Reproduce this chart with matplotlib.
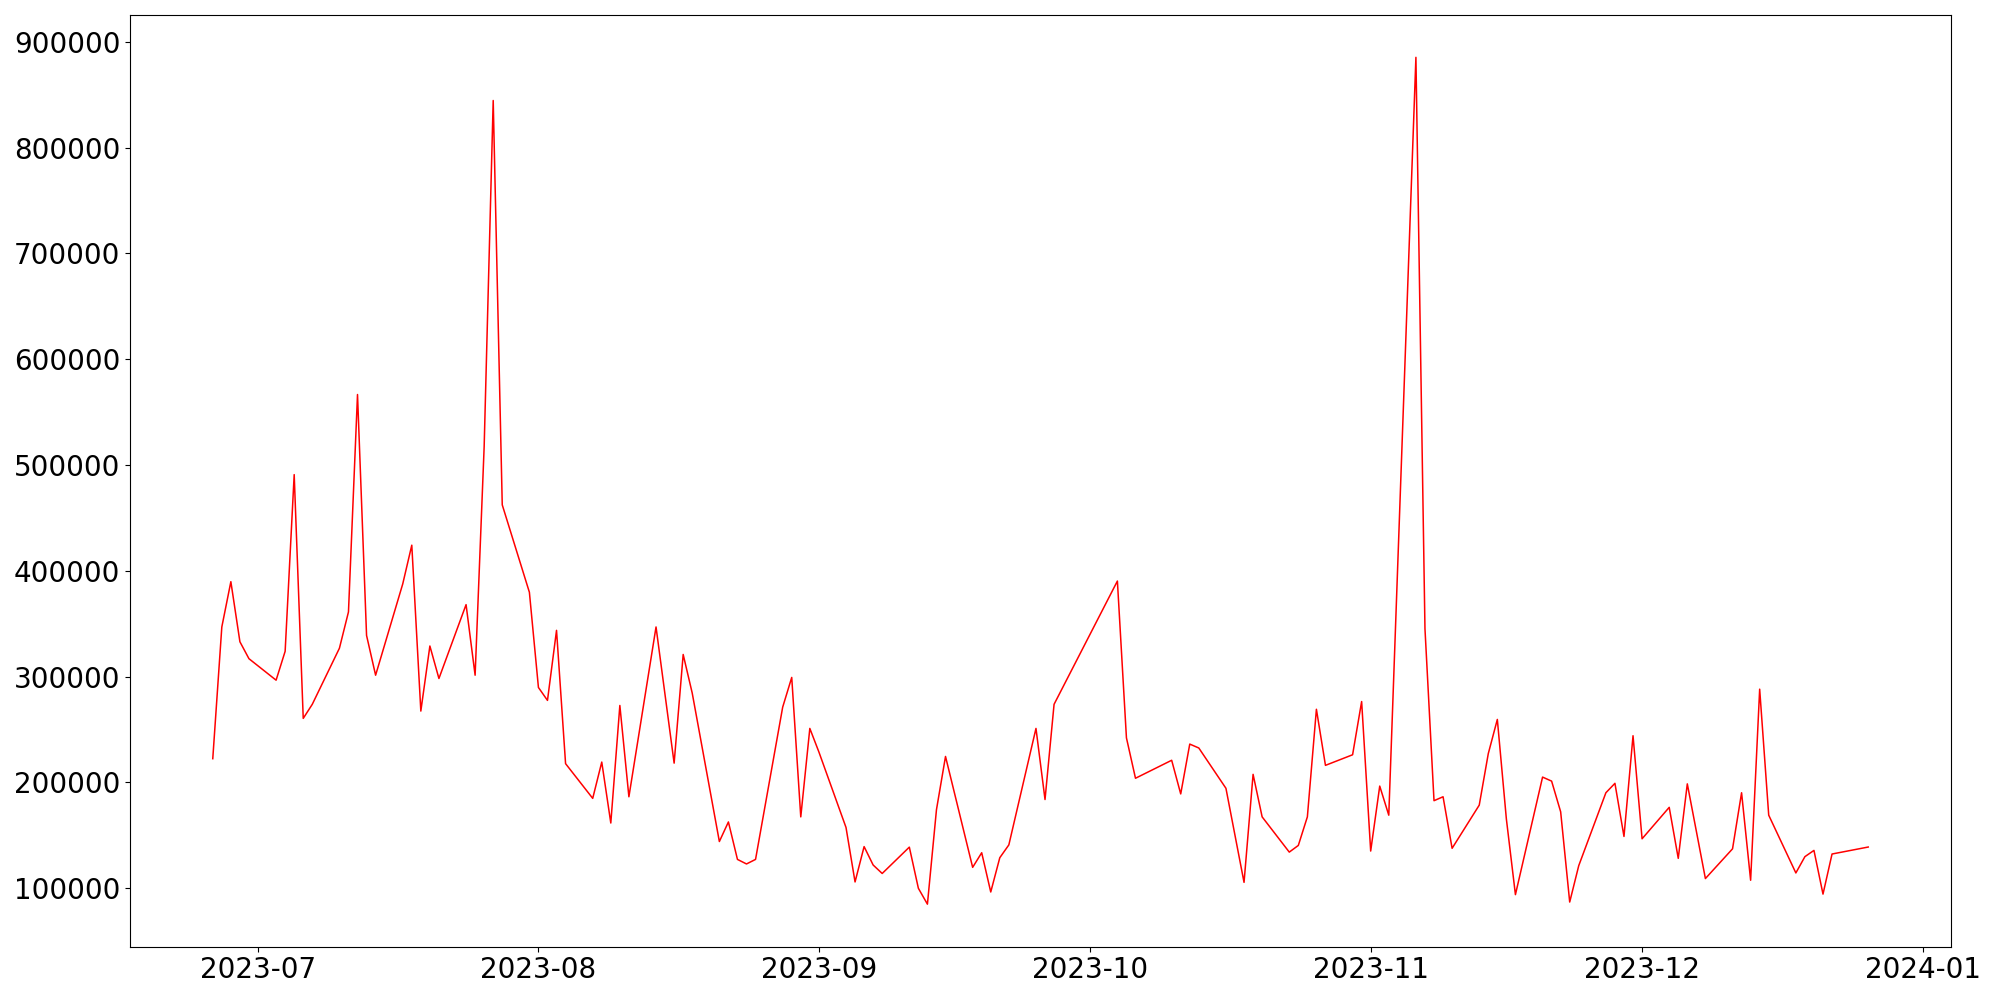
import pandas as pd
import matplotlib
matplotlib.use("Agg")
import matplotlib.pyplot as plt

# =========================================================
# DATA (daily values, weekdays only)
# =========================================================
dates = [
    "2023-06-26", "2023-06-27", "2023-06-28", "2023-06-29", "2023-06-30",
    "2023-07-03", "2023-07-04", "2023-07-05", "2023-07-06", "2023-07-07",
    "2023-07-10", "2023-07-11", "2023-07-12", "2023-07-13", "2023-07-14",
    "2023-07-17", "2023-07-18", "2023-07-19", "2023-07-20", "2023-07-21",
    "2023-07-24", "2023-07-25", "2023-07-26", "2023-07-27", "2023-07-28",
    "2023-07-31", "2023-08-01", "2023-08-02", "2023-08-03", "2023-08-04",
    "2023-08-07", "2023-08-08", "2023-08-09", "2023-08-10", "2023-08-11",
    "2023-08-14", "2023-08-16", "2023-08-17", "2023-08-18",
    "2023-08-21", "2023-08-22", "2023-08-23", "2023-08-24", "2023-08-25",
    "2023-08-28", "2023-08-29", "2023-08-30", "2023-08-31", "2023-09-01",
    "2023-09-04", "2023-09-05", "2023-09-06", "2023-09-07", "2023-09-08",
    "2023-09-11", "2023-09-12", "2023-09-13", "2023-09-14", "2023-09-15",
    "2023-09-18", "2023-09-19", "2023-09-20", "2023-09-21", "2023-09-22",
    "2023-09-25", "2023-09-26", "2023-09-27",
    "2023-10-04", "2023-10-05", "2023-10-06",
    "2023-10-10", "2023-10-11", "2023-10-12", "2023-10-13",
    "2023-10-16", "2023-10-18", "2023-10-19", "2023-10-20",
    "2023-10-23", "2023-10-24", "2023-10-25", "2023-10-26", "2023-10-27",
    "2023-10-30", "2023-10-31", "2023-11-01", "2023-11-02", "2023-11-03",
    "2023-11-06", "2023-11-07", "2023-11-08", "2023-11-09", "2023-11-10",
    "2023-11-13", "2023-11-14", "2023-11-15", "2023-11-16", "2023-11-17",
    "2023-11-20", "2023-11-21", "2023-11-22", "2023-11-23", "2023-11-24",
    "2023-11-27", "2023-11-28", "2023-11-29", "2023-11-30", "2023-12-01",
    "2023-12-04", "2023-12-05", "2023-12-06", "2023-12-08",
    "2023-12-11", "2023-12-12", "2023-12-13", "2023-12-14", "2023-12-15",
    "2023-12-18", "2023-12-19", "2023-12-20", "2023-12-21", "2023-12-22",
    "2023-12-26",
]

values = [
    222500, 347000, 389800, 333000, 317000,
    296700, 324000, 491000, 260600, 273900,
    326900, 361200, 566700, 339000, 301400,
    387700, 424300, 267500, 329000, 298300,
    368100, 301400, 517500, 844600, 462400,
    379800, 289800, 277600, 343800, 217800,
    185000, 219300, 161700, 272800, 186500,
    347000, 218300, 321000, 284500,
    144200, 162700, 127300, 123000, 127300,
    271200, 299300, 167500, 251100, 228900,
    157500, 106000, 139400, 122000, 114000,
    138900, 100000, 85000, 174300, 224600,
    119800, 133600, 96500, 128900, 141000,
    251100, 183900, 273900,
    390400, 242200, 204000,
    221000, 189200, 236300, 232600,
    194500, 105600, 207700, 167500,
    134200, 140500, 167500, 269200, 216200,
    226200, 276500, 135200, 196600, 169100,
    885400, 345400, 182800, 186500, 137800,
    178600, 227300, 259600, 165400, 94000,
    205100, 201300, 172300, 87000, 121400,
    190300, 199200, 149000, 244200, 146800,
    176500, 128300, 198700, 109200,
    137300, 190300, 107600, 288200, 169100,
    114500, 129900, 135800, 94500, 132400,
    139000,
]

df = pd.DataFrame({"date": pd.to_datetime(dates), "value": values})

# =========================================================
# PLOT
# =========================================================
fig, ax = plt.subplots(figsize=(20, 10), dpi=100)
ax.plot(df["date"], df["value"], color="red", linewidth=1.1)

ax.tick_params(axis="both", labelsize=20)
fig.subplots_adjust(left=0.065, right=0.9755, top=0.985, bottom=0.0535)

plt.savefig("out.png", dpi=100)
plt.close()
